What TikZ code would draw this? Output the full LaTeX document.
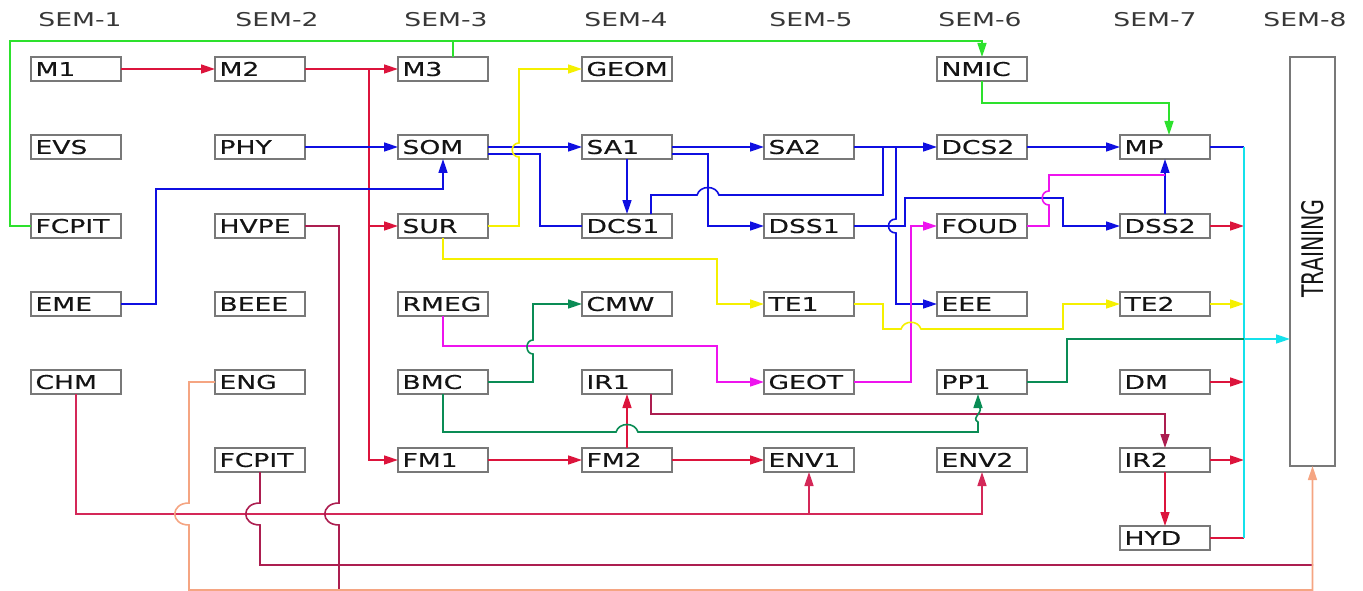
\documentclass[tikz,border=0pt]{standalone}
\usepackage{fontspec}
\setmainfont{DejaVu Sans}
\newfontfamily\boxfont[FakeStretch=1.4,FakeBold=0.4]{DejaVu Sans}
\newfontfamily\semfont[FakeStretch=1.4]{DejaVu Sans}
\newfontfamily\trainfont{DejaVu Sans}
\usetikzlibrary{arrows.meta}
\definecolor{crim}{RGB}{220,20,60}
\definecolor{chm}{RGB}{212,40,88}
\definecolor{dcrim}{RGB}{172,30,80}
\definecolor{blu}{RGB}{15,15,225}
\definecolor{grn}{RGB}{45,225,45}
\definecolor{yel}{RGB}{245,240,0}
\definecolor{mag}{RGB}{238,20,238}
\definecolor{tea}{RGB}{10,140,85}
\definecolor{cyn}{RGB}{20,225,235}
\definecolor{sal}{RGB}{245,165,130}
\definecolor{boxgray}{RGB}{120,120,120}
\definecolor{txt}{RGB}{20,20,20}
\begin{document}
\begin{tikzpicture}[x=1pt,y=-1pt,
  box/.style={draw=boxgray, line width=1.1pt, anchor=west, minimum height=24pt,
    text width=81pt, inner xsep=4.5pt, inner ysep=0pt, outer sep=0pt, text height=13.9pt,
    text depth=0pt, align=left, text=txt, font=\boxfont\fontsize{19}{19}\selectfont},
  semlbl/.style={text=txt!85, inner sep=0pt, text height=13.9pt, text depth=0pt,
    font=\semfont\fontsize{19}{19}\selectfont},
  ln/.style={line width=1.6pt},
  arr/.style={-{Triangle[length=14pt,width=9pt]}}]
\useasboundingbox (0,0) rectangle (1363,591);

% semester labels
\node[semlbl] (s1) at (80,20) {SEM-1};
\node[semlbl] (s2) at (277,20) {SEM-2};
\node[semlbl] (s3) at (446,20) {SEM-3};
\node[semlbl] (s4) at (626,20) {SEM-4};
\node[semlbl] (s5) at (811,20) {SEM-5};
\node[semlbl] (s6) at (980,20) {SEM-6};
\node[semlbl] (s7) at (1155,20) {SEM-7};
\node[semlbl] (s8) at (1305,20) {SEM-8};

% column 1
\node[box] (M1) at (31,69) {M1};
\node[box] (EVS) at (31,147) {EVS};
\node[box] (FCPITa) at (31,226) {FCPIT};
\node[box] (EME) at (31,304) {EME};
\node[box] (CHM) at (31,382) {CHM};
% column 2
\node[box] (M2) at (215,69) {M2};
\node[box] (PHY) at (215,147) {PHY};
\node[box] (HVPE) at (215,226) {HVPE};
\node[box] (BEEE) at (215,304) {BEEE};
\node[box] (ENG) at (215,382) {ENG};
\node[box] (FCPITb) at (215,460) {FCPIT};
% column 3
\node[box] (M3) at (398,69) {M3};
\node[box] (SOM) at (398,147) {SOM};
\node[box] (SUR) at (398,226) {SUR};
\node[box] (RMEG) at (398,304) {RMEG};
\node[box] (BMC) at (398,382) {BMC};
\node[box] (FM1) at (398,460) {FM1};
% column 4
\node[box] (GEOM) at (582,69) {GEOM};
\node[box] (SA1) at (582,147) {SA1};
\node[box] (DCS1) at (582,226) {DCS1};
\node[box] (CMW) at (582,304) {CMW};
\node[box] (IR1) at (582,382) {IR1};
\node[box] (FM2) at (582,460) {FM2};
% column 5
\node[box] (SA2) at (764,147) {SA2};
\node[box] (DSS1) at (764,226) {DSS1};
\node[box] (TE1) at (764,304) {TE1};
\node[box] (GEOT) at (764,382) {GEOT};
\node[box] (ENV1) at (764,460) {ENV1};
% column 6
\node[box] (NMIC) at (937,69) {NMIC};
\node[box] (DCS2) at (937,147) {DCS2};
\node[box] (FOUD) at (937,226) {FOUD};
\node[box] (EEE) at (937,304) {EEE};
\node[box] (PP1) at (937,382) {PP1};
\node[box] (ENV2) at (937,460) {ENV2};
% column 7
\node[box] (MP) at (1120,147) {MP};
\node[box] (DSS2) at (1120,226) {DSS2};
\node[box] (TE2) at (1120,304) {TE2};
\node[box] (DM) at (1120,382) {DM};
\node[box] (IR2) at (1120,460) {IR2};
\node[box] (HYD) at (1120,538) {HYD};
% training
\node[draw=boxgray, line width=1.1pt, minimum width=45pt, minimum height=409pt, inner sep=0pt, outer sep=0pt, text=txt]
  (TRAINING) at (1312.5,261.5)
  {\rotatebox{90}{\hspace{26pt}\scalebox{1}[1.45]{\trainfont\fontsize{20.5}{20.5}\selectfont TRAINING}}};

% junction coordinates
\coordinate (j1) at (369,69);
\coordinate (jE1) at (809,514);
\coordinate (bus1) at (1244,147);
\coordinate (bus2) at (1244,538);
\coordinate (t339) at (0,339);

% crimson
\draw[ln,crim,arr] (M1.east) -- (M2.west);
\draw[ln,crim,arr] (M2.east) -- (M3.west);
\draw[ln,crim,arr] (j1) |- (SUR.west);
\draw[ln,crim,arr] (j1) |- (FM1.west);
\draw[ln,crim,arr] (FM1.east) -- (FM2.west);
\draw[ln,crim,arr] (FM2.east) -- (ENV1.west);
\draw[ln,crim,arr] (FM2.north) -- (IR1.south);
\draw[ln,dcrim,arr] ([xshift=24pt]IR1.south) -- (651,414) -| (IR2.north);
\draw[ln,crim,arr] (IR2.south) -- (HYD.north);
\draw[ln,crim,arr] (DSS2.east) -- (1244,226);
\draw[ln,crim,arr] (DM.east) -- (1244,382);
\draw[ln,crim,arr] (IR2.east) -- (1244,460);
\draw[ln,crim] (HYD.east) -- (bus2);
\draw[ln,chm,arr] (CHM.south) -- (76,514) -| (ENV2.south);
\draw[ln,chm,arr] (jE1) -- (ENV1.south);
\draw[ln,dcrim] (HVPE.east) -- (339,226) -- (339,503) .. controls (320,503) and (320,525) .. (339,525) -- (339,590);
\draw[ln,dcrim] (FCPITb.south) -- (260,503) .. controls (241,503) and (241,525) .. (260,525) -- (260,565) -- (1313,565);
\draw[ln,sal,arr] (ENG.west) -- (189,382) -- (189,503) .. controls (170,503) and (170,525) .. (189,525) -- (189,590) -| (TRAINING.south);

% green
\draw[ln,grn,arr] (FCPITa.west) -- (10,226) -- (10,41) -| (NMIC.north);
\draw[ln,grn] ([xshift=10pt]M3.north) -- (453,41);
\draw[ln,grn,arr] (NMIC.south) -- (982,103) -| ([xshift=4pt]MP.north);

% blue
\draw[ln,blu,arr] (PHY.east) -- (SOM.west);
\draw[ln,blu,arr] (EME.east) -| (156,189) -| (SOM.south);
\draw[ln,blu,arr] (SOM.east) -- (SA1.west);
\draw[ln,blu] ([yshift=-7pt]SOM.east) -| (540,226) -- (DCS1.west);
\draw[ln,blu,arr] (SA1.south) -- (DCS1.north);
\draw[ln,blu,arr] (SA1.east) -- (SA2.west);
\draw[ln,blu,arr] ([yshift=-7pt]SA1.east) -| (708,226) -- (DSS1.west);
\draw[ln,blu] ([xshift=24pt]DCS1.north) -- (651,195) -- (697,195) .. controls (700,185) and (716,185) .. (719,195) -- (883,195) -- (883,147);
\draw[ln,blu,arr] (SA2.east) -- (DCS2.west);
\draw[ln,blu,arr] (896,147) -- (896,219) .. controls (886,219) and (886,233) .. (896,233) -- (896,304) -- (EEE.west);
\draw[ln,blu,arr] (DSS1.east) -- (905,226) -- (905,198) -- (1063,198) -- (1063,226) -- (DSS2.west);
\draw[ln,blu,arr] (DCS2.east) -- (MP.west);
\draw[ln,blu,arr] (DSS2.north) -- (MP.south);
\draw[ln,blu] (MP.east) -- (bus1);
\draw[ln,cyn] (bus1) -- (bus2);

% magenta
\draw[ln,mag,arr] (RMEG.south) -- (443,346) -| (717,382) -- (GEOT.west);
\draw[ln,mag,arr] (GEOT.east) -- (911,382) -- (911,226) -- (FOUD.west);
\draw[ln,mag] (FOUD.east) -- (1049,226) -- (1049,205) .. controls (1040,205) and (1040,191) .. (1049,191) -- (1049,175) -- (1165,175);

% yellow
\draw[ln,yel,arr] (SUR.east) -- (519,226) -- (519,157) .. controls (510,157) and (510,143) .. (519,143) -- (519,69) -- (GEOM.west);
\draw[ln,yel,arr] (SUR.south) -- (443,259) -| (717,304) -- (TE1.west);
\draw[ln,yel,arr] (TE1.east) -- (883,304) -- (883,329) -- (901,329) .. controls (904,320) and (918,320) .. (921,329) -- (1063,329) -- (1063,304) -- (TE2.west);
\draw[ln,yel,arr] (TE2.east) -- (1244,304);

% teal
\draw[ln,tea,arr] (BMC.east) -- (533,382) -- (533,354) .. controls (525,354) and (525,340) .. (533,340) -- (533,304) -- (CMW.west);
\draw[ln,tea,arr] (BMC.south) -- (443,432) -- (616,432) .. controls (619,422) and (635,422) .. (638,432) -- (978,432) -- (978,422) .. controls (970,418) and (986,411) .. (978,406) -- ([xshift=-4pt]PP1.south);
\draw[ln,tea] (PP1.east) -- (1067,382) -- (1067,339) -- (1244,339);
\draw[ln,cyn,arr] (1244,339) -- (TRAINING.west |- t339);
\end{tikzpicture}
\end{document}
